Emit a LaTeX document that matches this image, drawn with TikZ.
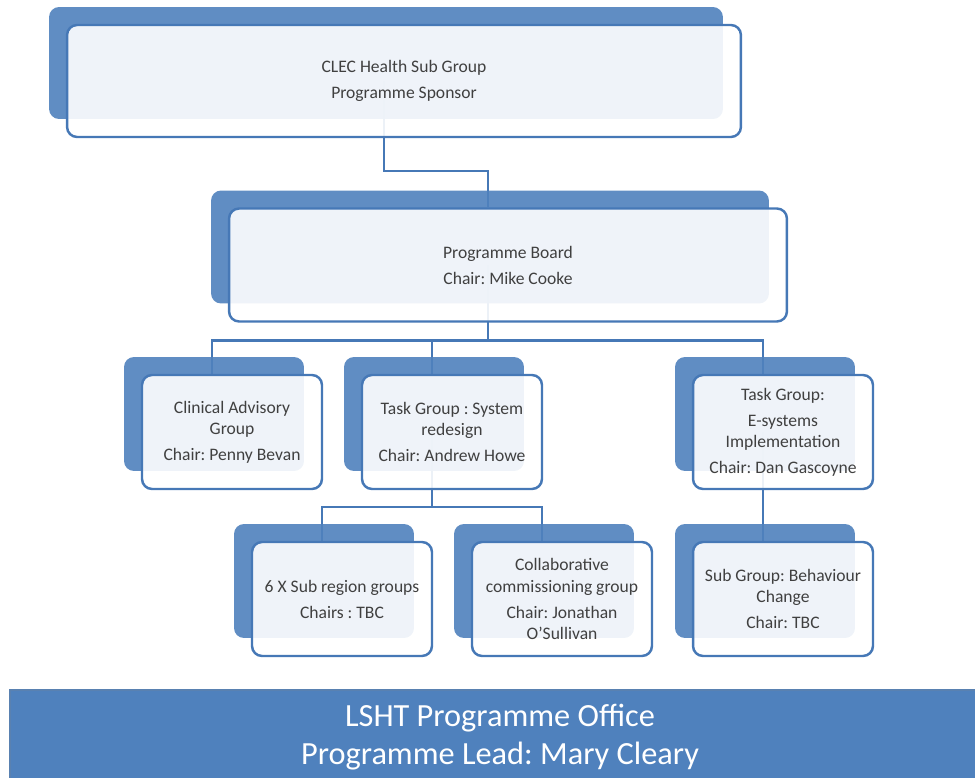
\documentclass[tikz,border=0pt]{standalone}
\usepackage{fontspec}
\setmainfont{Carlito}
\frenchspacing
\usepackage{tikz}
\usetikzlibrary{positioning,shadows,backgrounds}
\definecolor{boxblue}{RGB}{79,129,189}
\definecolor{lineblue}{RGB}{70,120,182}
\definecolor{boxtext}{RGB}{64,64,64}

\begin{document}
\begin{tikzpicture}[
	x=0.02cm, y=-0.02cm,
	unit/.style={rectangle, draw=lineblue, line width=1.4pt, rounded corners=2mm,
		fill=white, fill opacity=0.9, text opacity=1,
		copy shadow={shadow xshift=-0.36cm, shadow yshift=0.36cm, draw=none, fill=boxblue},
		align=center, text=boxtext, inner sep=0pt, font=\fontsize{10}{12}\selectfont,
		minimum width=3.6cm, minimum height=2.28cm},
	office/.style={rectangle, draw=boxblue!80!gray, line width=0.8pt, fill=boxblue,
		align=center, text=white, font=\fontsize{18.4}{21.6}\selectfont,
		minimum width=19.6cm, minimum height=1.88cm},
	link/.style={draw=lineblue, line width=1.4pt}
	]
	\useasboundingbox (0,0) rectangle (975,778);

	\node (spon) [unit, minimum width=13.48cm, minimum height=2.24cm] at (404,81)
		{CLEC Health Sub Group\\[2.8pt]Programme Sponsor};
	\node (board) [unit, minimum width=11.16cm, minimum height=2.26cm] at (508,265)
		{Programme Board\\[2.8pt]Chair: Mike Cooke};

	\node (clin) [unit] at (232,432)
		{Clinical Advisory\\Group\\[2.8pt]Chair: Penny Bevan};
	\node (redes) [unit] at (452,432)
		{Task Group : System\\redesign\\[2.8pt]Chair: Andrew Howe};
	\node (esys) [unit] at (783,432)
		{Task Group:\\[2.8pt]E-systems\\Implementation\\[2.8pt]Chair: Dan Gascoyne};

	\node (subreg) [unit] at (342,599)
		{6 X Sub region groups\\[2.8pt]Chairs : TBC};
	\node (collab) [unit] at (562,599)
		{Collaborative\\commissioning group\\[2.8pt]Chair: Jonathan\\O'Sullivan};
	\node (behav) [unit] at (783,599)
		{Sub Group: Behaviour\\Change\\[2.8pt]Chair: TBC};

	\node (office) [office] at (500,737)
		{LSHT Programme Office\\Programme Lead: Mary Cleary};

	\begin{scope}[on background layer]
		\draw [link] ([xshift=-0.4cm]spon.center) -- ([xshift=-0.4cm,yshift=-0.66cm]spon.south)
			-| ([xshift=-0.4cm]board.north);
		\draw [link] ([xshift=-0.4cm]board.center) -- ([xshift=-0.4cm,yshift=-0.36cm]board.south)
			coordinate (bj);
		\foreach \t in {clin,redes,esys}
			\draw [link] (bj) -| ([xshift=-0.4cm]\t.north);
		\draw [link] ([xshift=-0.4cm]redes.center) -- ([xshift=-0.4cm,yshift=-0.34cm]redes.south)
			coordinate (rj);
		\foreach \t in {subreg,collab}
			\draw [link] (rj) -| ([xshift=-0.4cm]\t.north);
		\draw [link] ([xshift=-0.4cm]esys.center) -- ([xshift=-0.4cm]behav.north);
	\end{scope}
\end{tikzpicture}
\end{document}
